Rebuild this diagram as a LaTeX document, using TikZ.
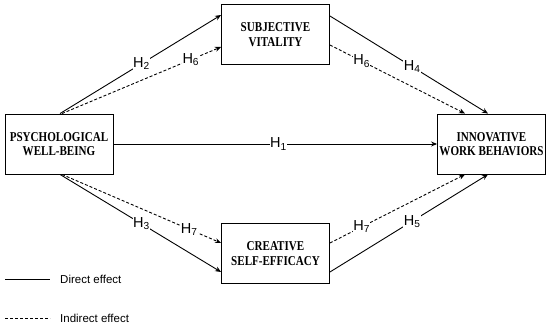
\documentclass[tikz,border=0pt]{standalone}
\usepackage{fontspec}
\setmainfont{Liberation Serif}
\newfontfamily\boxfont{Liberation Serif}[FakeStretch=0.82]
\newfontfamily\labfont{Liberation Sans}
\usetikzlibrary{arrows.meta}
\tikzset{
  varbox/.style={draw, line width=0.9pt, minimum width=108pt, minimum height=60pt,
    inner sep=0pt, align=center, font=\boxfont\bfseries\fontsize{13.5}{14.5}\selectfont},
  direct/.style={line width=0.9pt, -{Stealth[length=6pt,width=5pt]}},
  indirect/.style={line width=0.9pt, dash pattern=on 3pt off 2pt, -{Stealth[length=6pt,width=5pt]}},
  hlab/.style={fill=white, inner sep=0.5pt, font=\labfont\fontsize{14.5}{16}\selectfont},
  legtext/.style={anchor=west, inner sep=0pt, font=\labfont\fontsize{11.5}{13}\selectfont}
}
\begin{document}
\begin{tikzpicture}[x=1pt,y=-1pt]
\useasboundingbox (0,0) rectangle (550,328);
\node[varbox] (pwb) at (59,144) {PSYCHOLOGICAL\\WELL-BEING};
\node[varbox] (sv) at (275.5,34.5) {SUBJECTIVE\\VITALITY};
\node[varbox] (iwb) at (491.5,144) {INNOVATIVE\\WORK BEHAVIORS};
\node[varbox] (cse) at (275.5,253.5) {CREATIVE\\SELF-EFFICACY};

\coordinate (pwbt1) at ([xshift=1pt]pwb.north);
\coordinate (pwbt2) at ([xshift=3pt]pwb.north);
\coordinate (pwbb1) at ([xshift=1pt]pwb.south);
\coordinate (pwbb2) at ([xshift=3pt]pwb.south);
\coordinate (svl1) at ([yshift=19.5pt]sv.west);
\coordinate (svl2) at ([yshift=-12.5pt]sv.west);
\coordinate (svr1) at ([yshift=18.5pt]sv.east);
\coordinate (svr2) at ([yshift=-10.5pt]sv.east);
\coordinate (csel1) at ([yshift=10.5pt]cse.west);
\coordinate (csel2) at ([yshift=-18.5pt]cse.west);
\coordinate (cser1) at ([yshift=10.5pt]cse.east);
\coordinate (cser2) at ([yshift=-18.5pt]cse.east);
\coordinate (iwbt1) at ([xshift=-26.5pt]iwb.north);
\coordinate (iwbt2) at ([xshift=-3.5pt]iwb.north);
\coordinate (iwbb1) at ([xshift=-26.5pt]iwb.south);
\coordinate (iwbb2) at ([xshift=-3.5pt]iwb.south);

\draw[direct] (pwb.east) -- node[hlab, pos=0.51] (h1) {H\textsubscript{1}} (iwb.west);
\draw[direct] (pwbt1) -- node[hlab, pos=0.506] (h2) {H\textsubscript{2}} (svl1);
\draw[indirect] (pwbt2) -- node[hlab, pos=0.81] (h6a) {H\textsubscript{6}} (svl2);
\draw[direct] (svr1) -- node[hlab, pos=0.52] (h4) {H\textsubscript{4}} (iwbt2);
\draw[indirect] (svr2) -- node[hlab, pos=0.235] (h6b) {H\textsubscript{6}} (iwbt1);
\draw[direct] (pwbb1) -- node[hlab, pos=0.506] (h3) {H\textsubscript{3}} (csel2);
\draw[indirect] (pwbb2) -- node[hlab, pos=0.8] (h7a) {H\textsubscript{7}} (csel1);
\draw[indirect] (cser1) -- node[hlab, pos=0.235] (h7b) {H\textsubscript{7}} (iwbb1);
\draw[direct] (cser2) -- node[hlab, pos=0.52] (h5) {H\textsubscript{5}} (iwbb2);

\coordinate (ld1) at (5,279);
\coordinate (ld2) at (50,279);
\coordinate (li1) at (5,318);
\coordinate (li2) at (50,318);
\draw[line width=0.9pt] (ld1) -- (ld2);
\draw[line width=0.9pt, dash pattern=on 3pt off 2pt] (li1) -- (li2);
\node[legtext] (ldt) at (60,279) {Direct effect};
\node[legtext] (lit) at (60,318) {Indirect effect};
\end{tikzpicture}
\end{document}
